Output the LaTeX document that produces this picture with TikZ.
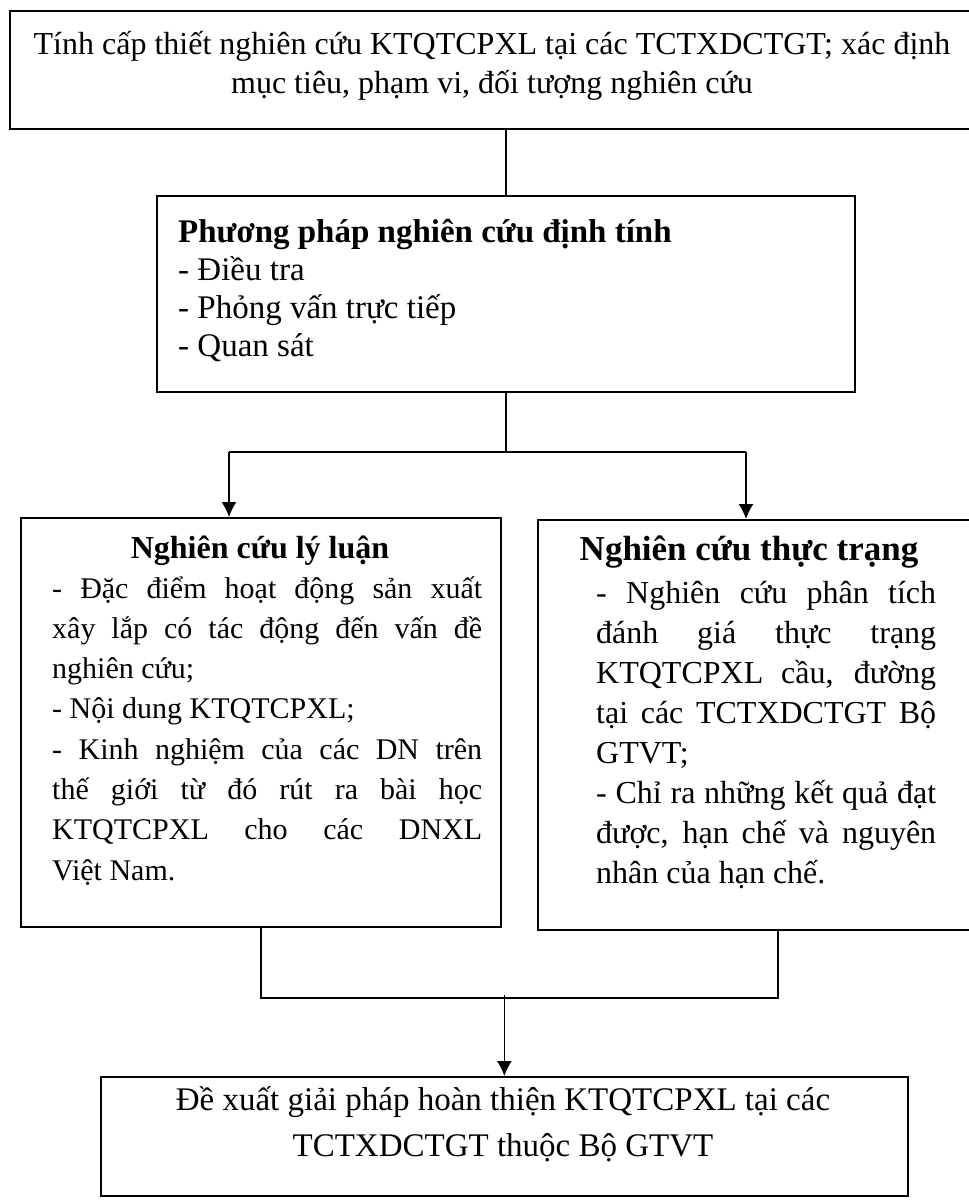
\documentclass[tikz,border=0pt]{standalone}
\usepackage{fontspec}
\setmainfont{Liberation Serif}
\usetikzlibrary{arrows.meta}
\hyphenpenalty=10000
\exhyphenpenalty=10000
\tolerance=10000
\hbadness=10000

\begin{document}
\begin{tikzpicture}[x=1pt,y=-1pt,
  box/.style={draw, line width=1.7pt, rectangle, inner sep=0pt, anchor=north west},
  link/.style={line width=1.4pt},
  arr/.style={link, -{Latex[length=15pt,width=15pt]}},
  txt/.style={inner sep=0pt, align=left},
]
\useasboundingbox (0,0) rectangle (969,1200);

% frames
\node[box, minimum width=976pt, minimum height=118pt] (top)  at (9,10) {};
\node[box, minimum width=698pt, minimum height=196pt] (mid)  at (156,195) {};
\node[box, minimum width=480pt, minimum height=409pt] (lbox) at (20,517) {};
\node[box, minimum width=480pt, minimum height=410pt] (rbox) at (537,519) {};
\node[box, minimum width=807pt, minimum height=119pt] (bbox) at (100,1076) {};

% texts
\node[txt, anchor=base] (toptext) at (492,54) {\parbox[t]{960pt}{\centering\fontsize{32}{39}\selectfont
  Tính cấp thiết nghiên cứu KTQTCPXL tại các TCTXDCTGT; xác định\\
  mục tiêu, phạm vi, đối tượng nghiên cứu}};

\node[txt, anchor=base west] (midtext) at (178,242) {\parbox[t]{660pt}{\fontsize{33}{38}\selectfont
  \textbf{Phương pháp nghiên cứu định tính}\\
  - Điều tra\\
  - Phỏng vấn trực tiếp\\
  - Quan sát}};

\node[txt, anchor=base] (ltitle) at (260,558) {\fontsize{32}{38}\selectfont\bfseries Nghiên cứu lý luận};
\node[txt, anchor=base west] (lbody) at (52,598) {\parbox[t]{430pt}{\fontsize{30}{40.3}\selectfont
  - Đặc điểm hoạt động sản xuất\linebreak
  xây lắp có tác động đến vấn đề\linebreak
  nghiên cứu;\par
  - Nội dung KTQTCPXL;\par
  - Kinh nghiệm của các DN trên\linebreak
  thế giới từ đó rút ra bài học\linebreak
  KTQTCPXL cho các DNXL\linebreak
  Việt Nam.}};

\node[txt, anchor=base] (rtitle) at (749,560) {\fontsize{35}{40}\selectfont\bfseries Nghiên cứu thực trạng};
\node[txt, anchor=base west] (rbody) at (596,603) {\parbox[t]{340pt}{\fontsize{32}{40}\selectfont
  - Nghiên cứu phân tích\linebreak
  đánh giá thực trạng\linebreak
  KTQTCPXL cầu, đường\linebreak
  tại các TCTXDCTGT Bộ\linebreak
  GTVT;\par
  - Chỉ ra những kết quả đạt\linebreak
  được, hạn chế và nguyên\linebreak
  nhân của hạn chế.}};

\node[txt, anchor=base] (btext) at (503,1110) {\parbox[t]{800pt}{\centering\fontsize{33}{46}\selectfont
  Đề xuất giải pháp hoàn thiện KTQTCPXL tại các\\
  TCTXDCTGT thuộc Bộ GTVT}};

% connectors
\coordinate (la) at (229,452);
\coordinate (ra) at (746,452);
\coordinate (join) at (0,998);

\draw[link] (top.south -| mid.north) -- (mid.north);
\draw[link] (mid.south) -- (mid.south |- la);
\draw[link] (la) -- (ra);
\draw[arr] (la) -- (la |- lbox.north);
\draw[arr] (ra) -- (ra |- rbox.north);

\draw[link] (lbox.south) -- (lbox.south |- join) -- (rbox.south |- join) -- (rbox.south);
\draw[arr] ([yshift=3pt]bbox.north |- join) -- (bbox.north);
\end{tikzpicture}
\end{document}
